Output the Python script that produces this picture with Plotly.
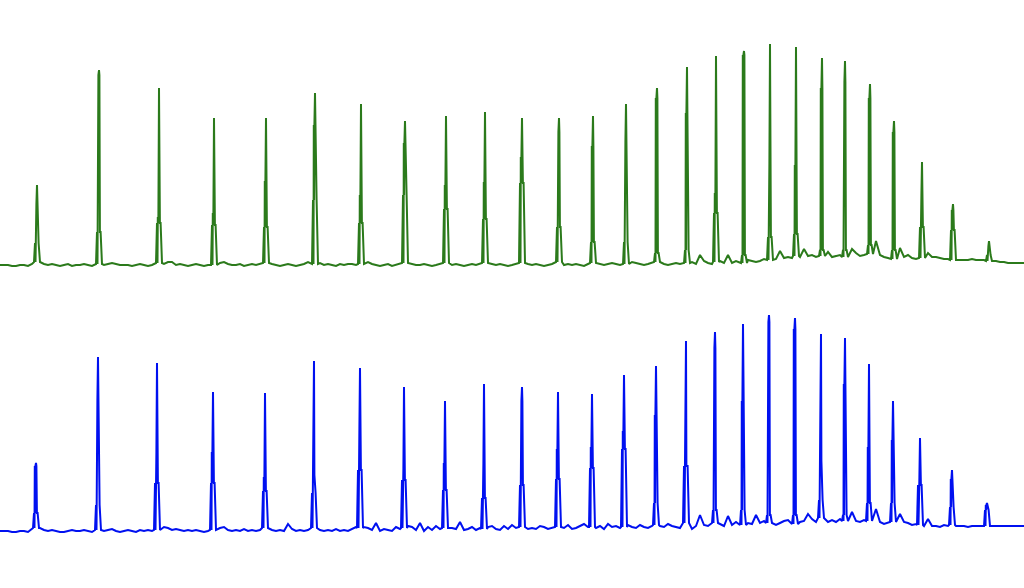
import plotly.graph_objects as go

# ---------------- data (intensity, arbitrary units; x = scan index) ----------------
baseline_x = list(range(0, 1025, 4))

green_baseline = (
    [0, 0, 0, -1, -1, 0, 0, -1, 1, 3, 2, 1, 0, 1, 0, -1] +
    [0, 1, -1, 0, 0, 1, 0, -1, 0, 1, 0, 1, 2, 1, 0, 0] +
    [0, -1, 0, 1, 0, -1, 0, 1, 2, 1, 3, 3, 0, 1, 0, -1] +
    [0, 1, 0, -1, 0, 0, 1, 2, 3, 1, 0, 0, 1, -1, 0, 1] +
    [0, 1, 2, 3, 1, 0, -1, 0, 1, 0, -1, 0, 1, 3, 2, 1] +
    [2, 0, 1, 0, -1, 1, 0, 1, 1, 0, 1, 2, 3, 1, 0, -1] +
    [0, 1, -1, 0, 1, 2, 3, 1, 0, 0, 1, 0, -1, 0, 1, 2] +
    [1, 0, 1, 0, -1, 0, 1, 0, 1, 2, 3, 1, 0, 1, 0, -1] +
    [0, 1, 2, 3, 1, 0, 1, 0, -1, 0, 1, 2, 3, 0, 1, 0] +
    [1, 0, -1, 1, 2, 3, 1, 0, 1, 2, 1, 0, 1, 2, 3, 2] +
    [1, 0, 1, 2, 3, 2, 1, 0, 1, 2, 1, 3, 2, 3, 1, 10] +
    [4, 2, 1, 3, 4, 2, 10, 2, 4, 3, 2, 5, 4, 3, 4, 6] +
    [5, 4, 6, 14, 7, 8, 7, 9, 8, 16, 9, 10, 8, 9, 7, 13] +
    [8, 9, 10, 8, 9, 16, 12, 9, 10, 11, 9, 24, 10, 8, 7, 6] +
    [6, 17, 8, 10, 7, 6, 7, 8, 12, 8, 8, 7, 6, 6, 5, 5] +
    [5, 5, 5, 6, 5, 5, 5, 4, 5, 4, 3, 3, 2, 2, 2, 2] +
    [2]
)

blue_baseline = (
    [0, 0, 0, -1, -1, 0, 0, -1, 3, 3, 3, 1, 0, 1, 0, -1] +
    [-1, 0, 1, 0, 0, 1, 0, -1, 1, 2, 0, 1, 2, 0, -1, 0] +
    [1, 0, -1, 1, 0, 1, 0, 1, 3, 4, 3, 1, 2, 1, 0, 1] +
    [0, 1, 0, -1, 0, 1, 4, 3, 4, 1, 0, 1, 0, 2, 0, 1] +
    [0, 1, 3, 4, 1, 0, 1, 0, 7, 2, 0, 1, 0, 1, 3, 2] +
    [1, 0, 1, 0, 2, 0, 1, 0, 2, 4, 3, 4, 3, 1, 8, 0] +
    [2, 1, 0, 4, 2, 3, 5, 4, 1, 8, 0, 4, 1, 5, 2, 3] +
    [4, 3, 2, 9, 1, 2, 4, 1, 3, 2, 4, 5, 2, 1, 5, 2] +
    [6, 3, 4, 4, 2, 3, 2, 5, 4, 2, 3, 4, 5, 3, 6, 2] +
    [3, 5, 7, 4, 4, 3, 5, 2, 7, 4, 5, 3, 4, 6, 4, 3] +
    [6, 4, 3, 5, 6, 5, 4, 7, 5, 4, 3, 8, 4, 2, 5, 16] +
    [6, 5, 4, 8, 7, 5, 15, 6, 9, 5, 6, 8, 7, 16, 8, 10] +
    [8, 7, 6, 8, 10, 11, 9, 7, 9, 10, 17, 12, 9, 13, 8, 9] +
    [11, 9, 12, 10, 9, 19, 10, 9, 11, 10, 12, 22, 9, 7, 8, 9] +
    [9, 17, 9, 8, 6, 7, 6, 5, 12, 5, 5, 4, 6, 5, 6, 5] +
    [5, 5, 4, 5, 5, 5, 4, 5, 5, 5, 5, 5, 5, 5, 5, 5] +
    [5]
)

green_peak_x = [37, 99, 159, 214, 266, 315, 361, 405, 446, 485, 522, 559, 593, 626,
                657, 687, 716, 744, 770, 796, 822, 845, 870, 894, 922, 953, 989]
green_top = [80, 195, 177, 147, 147, 172, 161, 144, 149, 153, 147, 147, 149, 161,
             177, 198, 209, 214, 221, 218, 207, 204, 181, 144, 103, 61, 24]
green_shoulder = [61, 190, 48, 52, 84, 140, 70, 122, 80, 83, 108, 133, 119, 123,
                  167, 152, 72, 210, 102, 100, 177, 183, 167, 133, 70, 55, 19]
green_foot = [22, 33, 42, 40, 38, 65, 42, 70, 56, 46, 82, 38, 23, 23,
              12, 15, 52, 10, 28, 31, 15, 15, 20, 15, 38, 35, 10]

blue_peak_x = [36, 98, 157, 213, 265, 314, 360, 404, 445, 484, 522, 558, 592, 624,
               656, 686, 715, 743, 769, 795, 821, 845, 869, 893, 920, 952, 987]
blue_top = [68, 174, 168, 139, 138, 170, 163, 144, 130, 147, 144, 139, 137, 156,
            165, 190, 199, 207, 216, 213, 197, 193, 167, 130, 93, 61, 28]
blue_shoulder = [65, 131, 79, 79, 54, 56, 103, 63, 68, 68, 130, 82, 84, 100,
                 116, 65, 183, 130, 209, 202, 70, 147, 84, 91, 54, 52, 26]
blue_foot = [18, 26, 48, 48, 40, 38, 61, 51, 41, 33, 46, 52, 63, 82,
             28, 65, 21, 21, 16, 16, 31, 16, 28, 28, 46, 24, 21]

# vertex template of one peak (offset along x, which level to use)
PEAK_OFFSETS = [-3.0, -2.0, -1.5, -1.2, -0.9, -0.6, 0.0, 0.4, 0.9, 1.6, 3.0]
PEAK_LEVELS = ["base", "foot", "base", "shoulder", "foot", "shoulder", "top",
               "shoulder", "foot", "foot", "base"]


def build_trace(bx, by, px, ptop, psh, pft):
    pts = []
    for x, y in zip(bx, by):
        if all(abs(x - p) > 3.5 for p in px):
            pts.append((x, y))
    for p, t, s, f in zip(px, ptop, psh, pft):
        nearest = min(range(len(bx)), key=lambda i: abs(bx[i] - p))
        b = by[nearest]
        lv = {"base": b, "foot": f, "shoulder": s, "top": t}
        for off, name in zip(PEAK_OFFSETS, PEAK_LEVELS):
            pts.append((p + off, lv[name]))
    pts.sort(key=lambda q: q[0])
    return [q[0] for q in pts], [q[1] for q in pts]


gx, gy = build_trace(baseline_x, green_baseline, green_peak_x, green_top, green_shoulder, green_foot)
bx_, by_ = build_trace(baseline_x, blue_baseline, blue_peak_x, blue_top, blue_shoulder, blue_foot)

fig = go.Figure()
fig.add_trace(go.Scatter(x=gx, y=gy, mode="lines", line=dict(color="#2b7a1b", width=2),
                         xaxis="x", yaxis="y", showlegend=False, hoverinfo="skip"))
fig.add_trace(go.Scatter(x=bx_, y=by_, mode="lines", line=dict(color="#0010f0", width=2),
                         xaxis="x2", yaxis="y2", showlegend=False, hoverinfo="skip"))

H = 588
fig.update_layout(
    width=1024, height=588,
    margin=dict(l=0, r=0, t=0, b=0),
    paper_bgcolor="white", plot_bgcolor="white",
    xaxis=dict(range=[0, 1024], visible=False, domain=[0, 1], anchor="y"),
    yaxis=dict(range=[-15, 235], visible=False, domain=[1 - 280 / H, 1 - 30 / H], anchor="x"),
    xaxis2=dict(range=[0, 1024], visible=False, domain=[0, 1], anchor="y2"),
    yaxis2=dict(range=[-14, 236], visible=False, domain=[1 - 545 / H, 1 - 295 / H], anchor="x2"),
)

fig.write_html(
    "out.html",
    config={"displayModeBar": False},
    post_script="document.body.style.margin='0';document.body.style.padding='0';document.body.style.overflow='hidden';",
)
